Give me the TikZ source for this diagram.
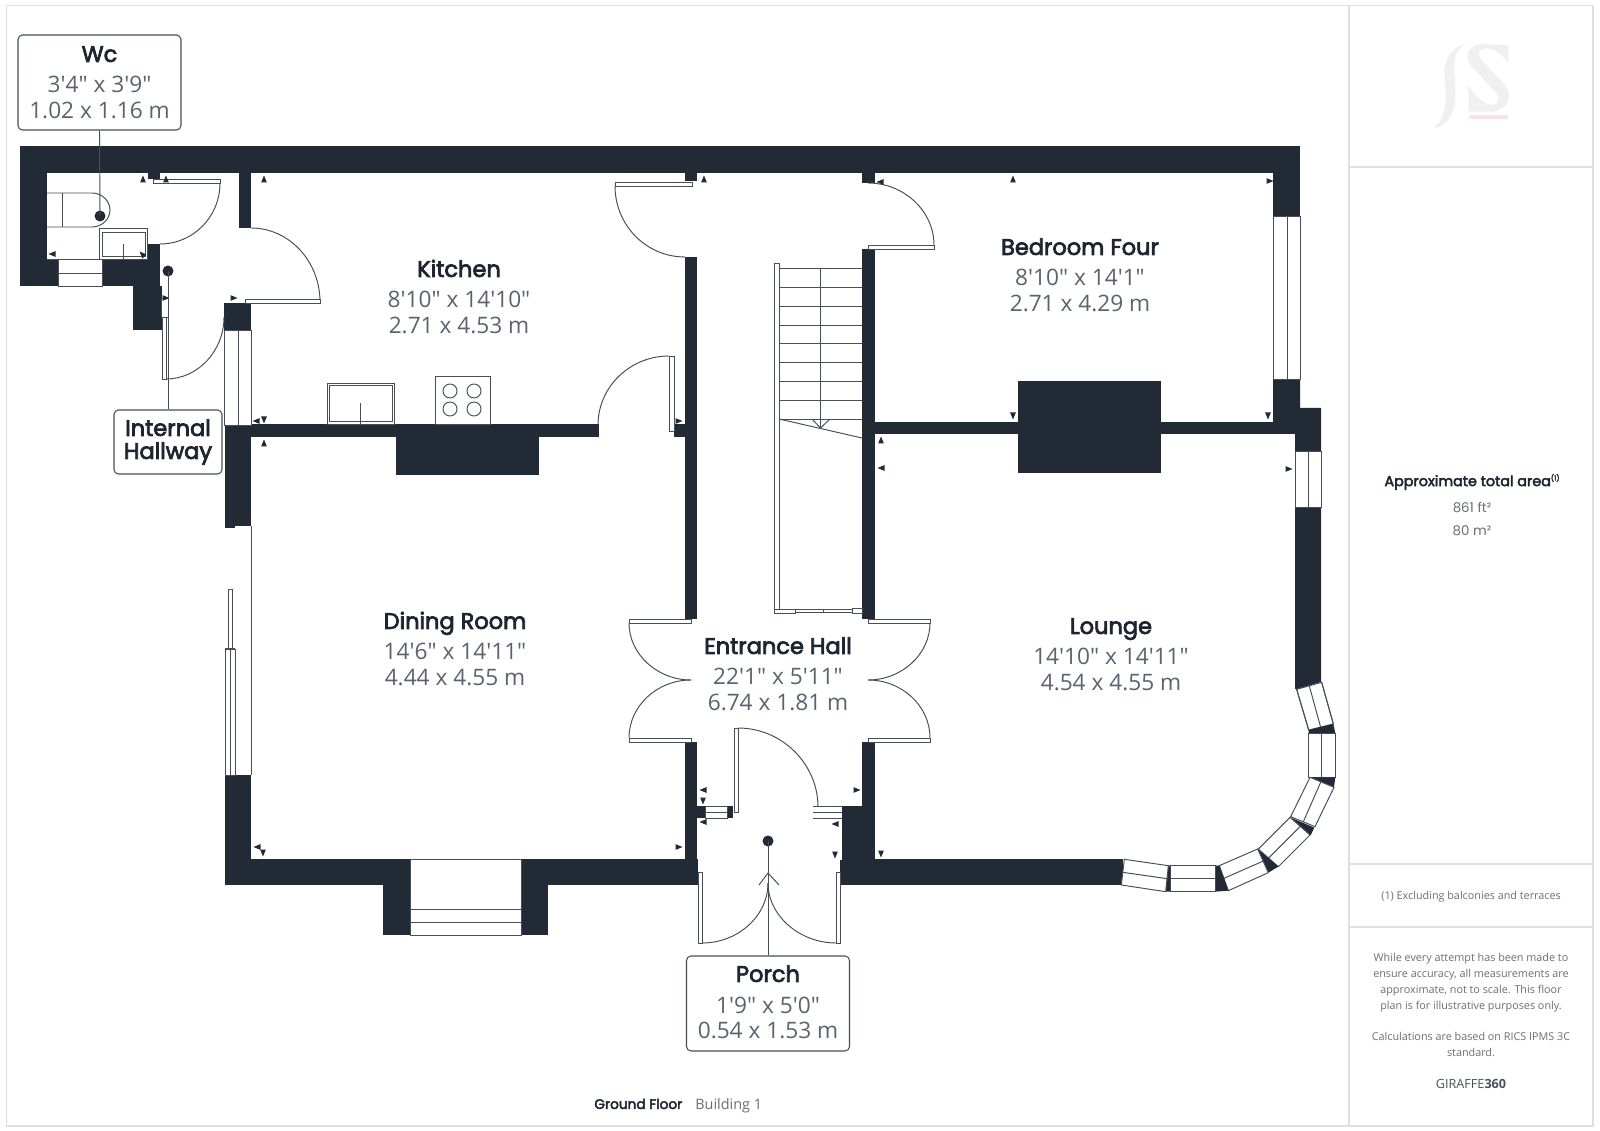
\documentclass[tikz,border=0pt]{standalone}
\usepackage{fontspec}
\setmainfont{Open Sans}
\newfontfamily\titlef{Poppins}
\newfontfamily\semif[FakeBold=3.2]{Poppins}
\newfontfamily\bodyf{Open Sans}
\definecolor{wallc}{HTML}{222A35}
\definecolor{linec}{HTML}{474E58}
\definecolor{framec}{HTML}{DEDFE0}
\definecolor{titlec}{HTML}{1E2530}
\definecolor{measc}{HTML}{5A636E}
\definecolor{smallc}{HTML}{6A6E73}
\definecolor{logoc}{HTML}{F0F0F0}
\definecolor{logop}{HTML}{F9E4E4}
\tikzset{
  x=0.02cm,y=-0.02cm,
  wall/.style={fill=wallc,draw=none},
  thin line/.style={draw=linec,line width=0.55pt},
  leaf/.style={draw=linec,line width=0.55pt,fill=white},
  swing/.style={draw=linec,line width=0.55pt},
  frameline/.style={draw=framec,line width=0.75pt},
  dot/.style={circle,fill=wallc,draw=none,minimum size=0.22cm,inner sep=0pt},
  labelbox/.style={draw=linec,line width=0.6pt,rounded corners=0.09cm,fill=white,inner sep=0pt},
  titletext/.style={font=\semif\fontsize{12.8}{15}\selectfont,text=titlec,inner sep=0pt,text height=9pt,text depth=0pt},
  meastext/.style={font=\bodyf\fontsize{12.9}{15}\selectfont,text=measc,inner sep=0pt,text height=9.4pt,text depth=0pt},
  smalltext/.style={font=\bodyf\fontsize{6.15}{9}\selectfont,text=smallc,inner sep=0pt},
  tip/.style={fill=wallc,draw=none},
}
\newcommand{\wl}[4]{\fill[wall] (#1,#2) rectangle (#3,#4);}
\newcommand{\tri}[3]{\fill[tip,shift={(#1,#2)},rotate=#3] (3.5,0)--(-3.5,-2.9)--(-3.5,2.9)--cycle;}
\newcommand{\win}[4]{\draw[leaf] (#1,#2) rectangle (#3,#4);}
\newcommand{\roomlabel}[6]{%
  \node[titletext] (#1t) at (#2,#3) {#4};
  \node[meastext] (#1a) at (#2,#3+30) {#5};
  \node[meastext] (#1b) at (#2,#3+56) {#6};
}
\begin{document}
\begin{tikzpicture}
\useasboundingbox (0,0) rectangle (1600,1131);
\fill[white] (0,0) rectangle (1600,1131);
% page frame and side panel
\draw[frameline] (6.5,5.5) rectangle (1593,1126);
\draw[frameline] (1349,5.5) -- (1349,1126);
\draw[frameline] (1349,167) -- (1593,167);
\draw[frameline] (1349,864) -- (1593,864);
\draw[frameline] (1349,927) -- (1593,927);
% logo
\begin{scope}[shift={(1420,30)},scale=1/3]
\fill[logoc] (265,45) -- (265,100) .. controls (245,70) and (220,55) .. (195,55) .. controls (178,55) and (170,70) .. (180,85) -- (255,165) .. controls (280,195) and (265,240) .. (215,245) -- (145,245) -- (145,165) .. controls (165,200) and (190,222) .. (215,225) .. controls (235,225) and (240,205) .. (230,190) -- (155,110) .. controls (125,75) and (150,42) .. (190,42) -- cycle;
\fill[logoc] (140,40) .. controls (85,55) and (68,100) .. (74,150) .. controls (80,210) and (80,260) .. (42,295) .. controls (90,285) and (108,240) .. (106,180) -- (103,120) .. controls (100,80) and (112,55) .. (140,40) -- cycle;
\fill[logop] (147,254) rectangle (265,266);
\end{scope}
% ---- walls
\wl{20}{146}{1300}{173}
\wl{20}{173}{47}{286}
\wl{47}{259}{58}{286}
\wl{102}{259}{147}{286}
\wl{133}{286}{162}{330}
\wl{147}{244}{160}{300}
\wl{148}{173}{160}{179}
\wl{239}{173}{251}{228}
\wl{224}{303}{251}{330}
\wl{225}{424}{599}{437}
\wl{225}{437}{251}{526}
\wl{225}{526}{235}{528}
\wl{396}{437}{539}{475}
\wl{674}{424}{685}{437}
\wl{685}{173}{697}{181}
\wl{685}{257}{697}{619}
\wl{862}{173}{875}{183}
\wl{862}{249}{875}{619}
\wl{875}{422}{1273}{434}
\wl{1018}{381}{1161}{473}
\wl{1273}{173}{1300}{216}
\fill[wall] (1273,379) -- (1300,379) -- (1300,408) -- (1321,408) -- (1321,451) -- (1295,451) -- (1295,434) -- (1273,434) -- cycle;
\fill[wall] (1295,507) -- (1321,507) -- (1321,682) -- (1297,689) -- (1295,689) -- cycle;
\wl{225}{775}{251}{885}
\wl{251}{859}{383}{885}
\wl{383}{859}{410}{935}
\wl{521}{859}{548}{935}
\wl{548}{859}{698}{885}
\wl{685}{742}{697}{859}
\wl{697}{806}{705}{818}
\wl{727}{806}{733}{818}
\wl{842}{806}{875}{885}
\wl{862}{742}{875}{806}
\wl{875}{859}{1123}{885}
\wl{840}{860}{842}{885}
% ---- windows
\win{58}{259}{102}{286}
\draw[thin line] (58,273) -- (102,273);
\draw[thin line] (47,259) -- (58,259);
\win{224}{330}{251}{425}
\draw[thin line] (238,330) -- (238,425);
\win{1273}{216}{1300}{379}
\draw[thin line] (1287,216) -- (1287,379);
\win{1295}{451}{1321}{507}
\draw[thin line] (1308,451) -- (1308,507);
\win{410}{859}{521}{935}
\draw[thin line] (410,909) -- (521,909);
\draw[thin line] (410,922) -- (521,922);
\win{705}{806}{727}{818}
\draw[thin line] (705,812) -- (727,812);
\draw[thin line] (813,806.5) -- (842,806.5);
\draw[thin line] (813,812) -- (842,812);
\draw[thin line] (813,818) -- (842,818);
% dining room sliding door
\draw[thin line] (251,526) -- (251,775);
\win{228}{589}{232}{649}
\win{225}{649}{235}{775}
\draw[thin line] (230,649) -- (230,775);
\draw[draw=linec,line width=1pt] (225,649) -- (235,649);
% bay window
\begin{scope}[shift={(1080,650)},scale=1/3]
\fill[leaf] (650,118) -- (725,97) -- (760,222) -- (686,240) -- cycle;
\draw[thin line] (650,118) -- (686,240) (725,97) -- (760,222);
\draw[thin line] (688,108) -- (722,232);
\fill[wall] (686,240) -- (760,222) -- (766,250) -- (686,250) -- cycle;
\draw[leaf] (686,250) rectangle (766,382);
\draw[thin line] (725,250) -- (725,382);
\fill[wall] (690,382) -- (766,382) -- (762,412) -- cycle;
\draw[leaf] (690,382) -- (762,412) -- (705,530) -- (632,500) -- cycle;
\draw[thin line] (722,397) -- (670,515);
\fill[wall] (630,502) -- (703,533) -- (692,556) -- cycle;
\draw[leaf] (630,502) -- (690,555) -- (595,650) -- (535,597) -- cycle;
\draw[thin line] (660,530) -- (565,625);
\fill[wall] (533,597) -- (595,650) -- (565,668) -- cycle;
\draw[leaf] (533,597) -- (565,668) -- (445,722) -- (418,647) -- cycle;
\draw[thin line] (550,633) -- (432,685);
\fill[wall] (405,647) -- (418,647) -- (445,722) -- (405,725) -- cycle;
\draw[leaf] (270,647) rectangle (405,725);
\draw[thin line] (270,686) -- (405,686);
\fill[wall] (265,647) -- (270,647) -- (270,725) -- (257,725) -- cycle;
\draw[leaf] (133,628) -- (265,647) -- (257,725) -- (124,705) -- cycle;
\draw[thin line] (128,667) -- (261,686);
\end{scope}
% ---- door leaves and swings
\win{153}{179}{220}{183}
\draw[swing] (160,244) .. controls (193,244) and (220,217) .. (220,183);
\draw[swing] (251,228) .. controls (289,228) and (320,261) .. (320,302);
\win{245}{299}{320}{303}
\win{161}{298}{168}{317}
\win{162}{317}{166}{379}
\draw[swing] (166,379) .. controls (198,379) and (224,351) .. (224,317);
\win{669}{356}{674}{431}
\draw[swing] (669,356) .. controls (630,356) and (598,387) .. (598,425);
\win{615}{182}{692}{186}
\draw[swing] (615,186) .. controls (615,225) and (646,257) .. (685,257);
\draw[swing] (868,183) .. controls (904,183) and (934,211) .. (934,245);
\win{868}{245}{934}{249}
\win{629}{619}{691}{623}
\win{629}{738}{691}{742}
\draw[swing] (629,623) .. controls (629,654) and (657,680) .. (691,680);
\draw[swing] (629,738) .. controls (629,706) and (657,680) .. (691,680);
\win{868}{619}{930}{623}
\win{868}{738}{930}{742}
\draw[swing] (930,623) .. controls (930,654) and (902,680) .. (868,680);
\draw[swing] (930,738) .. controls (930,706) and (902,680) .. (868,680);
\win{734}{728}{738}{812}
\draw[swing] (738,728) .. controls (782,728) and (818,764) .. (818,807);
\win{698}{872}{702}{943}
\win{836}{872}{840}{943}
\draw[swing] (702,943) .. controls (738,943) and (768,916) .. (768,883);
\draw[swing] (836,943) .. controls (800,943) and (768,916) .. (768,883);
\draw[thin line] (759,885) -- (768,873) -- (779,885);
% ---- stairs
\win{774}{263}{779}{613}
\foreach \yy in {268,287,306,325,343,362,381,400,419}{\draw[thin line] (779,\yy) -- (862,\yy);}
\draw[thin line] (820.5,268) -- (820.5,428);
\draw[thin line] (779,419) -- (862,438);
\draw[thin line] (812,419) -- (820.5,428) -- (830,419);
\win{774}{609}{795}{613}
\win{795}{609.5}{852}{612}
\draw[thin line] (823,609) -- (823,613);
\win{852}{608}{862}{613}
% ---- fixtures
\draw[thin line] (47,193) -- (92,193) .. controls (102,193) and (110,201) .. (110,210) .. controls (110,219) and (102,227) .. (92,227) -- (47,227);
\draw[thin line] (62,193) -- (62,227);
\win{99}{228}{147}{259}
\win{102}{232}{145}{256}
\draw[thin line] (123,244) -- (123,259);
\win{327}{383}{394}{424}
\win{329}{385}{392}{421}
\draw[thin line] (360,403) -- (360,424);
\win{435}{376}{490}{424}
\foreach \cx in {450,474}{\foreach \cy in {391,409}{\draw[thin line] (\cx,\cy) circle[radius=7];}}
% ---- small dimension ticks
\tri{143}{179}{90}\tri{166}{179}{90}\tri{264}{179}{90}
\tri{52}{254}{180}\tri{142}{254}{135}
\tri{166}{298}{0}\tri{234}{298}{0}
\tri{256}{421}{180}\tri{264}{420}{-90}\tri{264}{443}{90}
\tri{704}{179}{90}\tri{880}{182}{180}\tri{679}{421}{0}
\tri{881}{440}{90}\tri{881}{468}{180}
\tri{1013}{179}{90}\tri{1270}{181}{0}
\tri{1013}{416}{-90}\tri{1268}{416}{-90}\tri{1289}{469}{0}
\tri{881}{854}{-90}\tri{679}{847}{0}
\tri{257}{847}{180}\tri{263}{853}{-90}
\tri{703}{790}{180}\tri{703}{801}{-90}\tri{703}{822}{180}
\tri{857}{790}{0}\tri{835}{824}{180}\tri{835}{855}{-90}
% ---- room labels
\roomlabel{kit}{459}{269}{Kitchen}{8'10" x 14'10"}{2.71 x 4.53 m}
\roomlabel{bed}{1080}{247}{Bedroom Four}{8'10" x 14'1"}{2.71 x 4.29 m}
\roomlabel{din}{455}{621}{Dining Room}{14'6" x 14'11"}{4.44 x 4.55 m}
\roomlabel{hal}{778}{646}{Entrance Hall}{22'1" x 5'11"}{6.74 x 1.81 m}
\roomlabel{lou}{1111}{626}{Lounge}{14'10" x 14'11"}{4.54 x 4.55 m}
% ---- callouts
\node[dot] (wcdot) at (100,216) {};
\node[labelbox,minimum width=3.26cm,minimum height=1.9cm] (wcbox) at (99.5,82.5) {};
\draw[thin line] (wcbox.south) -- (wcdot.center);
\node[titletext] (wct) at (99.5,54) {Wc};
\node[meastext] (wca) at (99.5,84) {3'4" x 3'9"};
\node[meastext] (wcb) at (99.5,110) {1.02 x 1.16 m};
\node[dot] (hwdot) at (168,271) {};
\node[labelbox,minimum width=2.16cm,minimum height=1.28cm] (hwbox) at (168,442) {};
\draw[thin line] (hwbox.north) -- (hwdot.center);
\node[titletext] (hwt) at (168,428) {Internal};
\node[titletext] (hwu) at (168,451) {Hallway};
\node[dot] (podot) at (768,841) {};
\node[labelbox,minimum width=3.26cm,minimum height=1.9cm] (pobox) at (768,1003.5) {};
\draw[thin line] (podot.center) -- (pobox.north);
\node[titletext] (pot) at (768,974) {Porch};
\node[meastext] (poa) at (768,1005) {1'9" x 5'0"};
\node[meastext] (pob) at (768,1030) {0.54 x 1.53 m};
% ---- footer
\node[inner sep=0pt,anchor=west,font=\semif\fontsize{7.8}{9}\selectfont,text=titlec,text height=5.6pt,text depth=0pt] (gf) at (594,1104) {Ground Floor};
\node[inner sep=0pt,anchor=west,font=\bodyf\fontsize{8.2}{9}\selectfont,text=smallc,text height=5.9pt,text depth=0pt] (bl) at (695,1104) {Building 1};
% ---- panel text
\node[inner sep=0pt,font=\semif\fontsize{8.15}{9}\selectfont,text=titlec,text height=5.8pt,text depth=0pt] (area) at (1472,481) {Approximate total area\raisebox{0.7ex}{\fontsize{4}{4}\selectfont(1)}};
\node[inner sep=0pt,font=\titlef\fontsize{7.6}{9}\selectfont,text=smallc] (ft) at (1472,508) {861 ft²};
\node[inner sep=0pt,font=\titlef\fontsize{7.6}{9}\selectfont,text=smallc] (m2) at (1472,531) {80 m²};
\node[smalltext] (excl) at (1471,897) {(1) Excluding balconies and terraces};
\node[smalltext,align=center,anchor=north] (para) at (1471,953) {While every attempt has been made to\\ensure accuracy, all measurements are\\approximate, not to scale. This floor\\plan is for illustrative purposes only.\\[9pt]Calculations are based on RICS IPMS 3C\\standard.};
\node[inner sep=0pt,font=\bodyf\fontsize{7.2}{8}\selectfont,text=titlec!80] (gir) at (1471,1084) {GIRAFFE\textbf{360}};
\end{tikzpicture}
\end{document}
